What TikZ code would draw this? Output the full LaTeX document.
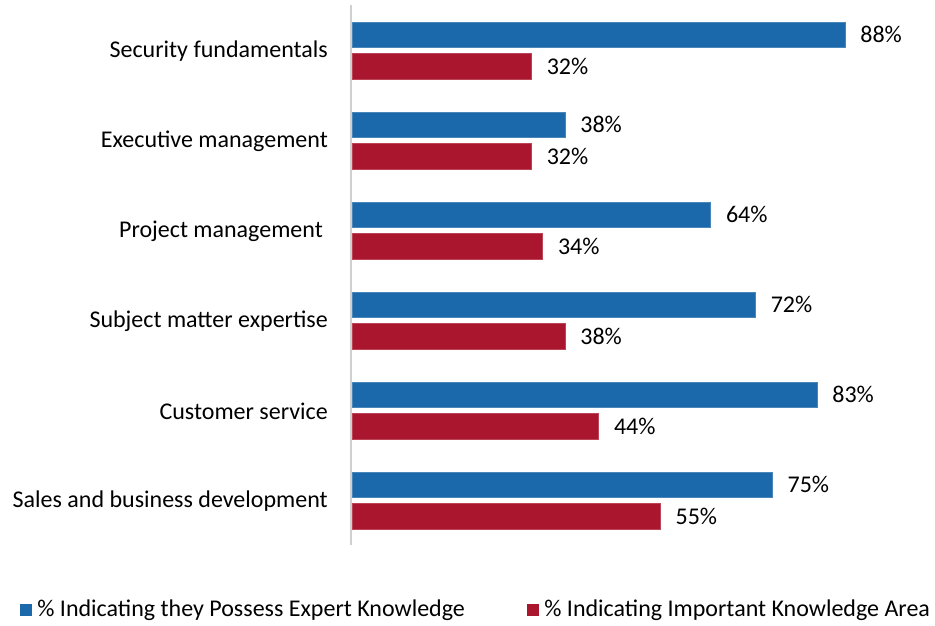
\documentclass[tikz,border=0pt]{standalone}
\usepackage{fontspec}
\setmainfont{Carlito}
\definecolor{barblue}{HTML}{1B69AA}
\definecolor{barred}{HTML}{AA162D}
\definecolor{axisgray}{HTML}{D0D0D0}
\begin{document}
\begin{tikzpicture}[x=1pt,y=-1pt,
  txt/.style={font=\fontsize{24}{28}\selectfont, text=black, inner sep=0pt},
  bluebar/.style={fill=barblue, draw=barblue!80!white, line width=0.4pt, inner sep=0pt, minimum height=25.5pt, anchor=west},
  redbar/.style={fill=barred, draw=barred!80!white, line width=0.4pt, inner sep=0pt, minimum height=26pt, anchor=west},
  val/.style={txt, anchor=west},
  cat/.style={txt, anchor=east},
  legsq/.style={inner sep=0pt, minimum size=12pt}]
\useasboundingbox (0,0) rectangle (935,625);
\coordinate (axtop) at (351,5);
\coordinate (axbot) at (351,545);
\draw[axisgray, line width=1.3pt] (axtop) -- (axbot);
\foreach \i/\nm/\a/\b/\dx in {0/Security fundamentals/88/32/0,
                          1/Executive management/38/32/0,
                          2/Project management/64/34/5,
                          3/Subject matter expertise/72/38/0,
                          4/Customer service/83/44/0,
                          5/Sales and business development/75/55/0}{
  \pgfmathsetmacro{\c}{50+90*\i}
  \node[bluebar, minimum width={\a*5.6pt}] (b\i) at (352,\c-15.5) {};
  \node[redbar, minimum width={\b*5.6pt}] (r\i) at (352,\c+16) {};
  \node[val] (vb\i) at ([xshift=15pt]b\i.east) {\a\%};
  \node[val] (vr\i) at ([xshift=15pt]r\i.east) {\b\%};
  \node[cat] (c\i) at (328-\dx,\c+1) {\nm};
}
\node[legsq, fill=barblue] (lb) at (26,610) {};
\node[txt, anchor=west] (lbt) at ([xshift=5pt]lb.east) {\% Indicating they Possess Expert Knowledge};
\node[legsq, fill=barred] (lr) at (533,610) {};
\node[txt, anchor=west] (lrt) at ([xshift=5pt]lr.east) {\% Indicating Important Knowledge Area};
\end{tikzpicture}
\end{document}
